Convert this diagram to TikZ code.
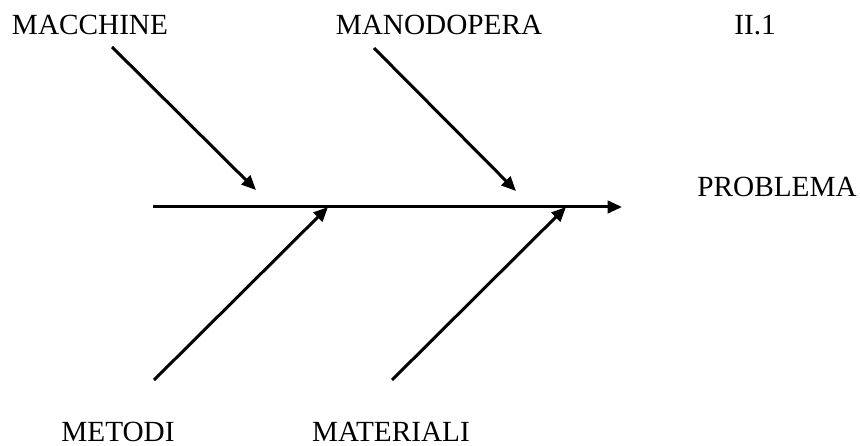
\documentclass[tikz,border=0pt]{standalone}
\usepackage{fontspec}
\setmainfont{Liberation Serif}
\usetikzlibrary{arrows.meta}

\begin{document}
\begin{tikzpicture}[
  x=0.4pt,
  y=-0.4pt,
  font=\fontsize{11.7}{14}\selectfont,
  cause/.style={inner sep=0pt, anchor=center},
  arrow/.style={-{Triangle[length=5.8pt, width=5pt]}, line width=1.2pt},
  spine/.style={arrow}
]
  \useasboundingbox (0,0) rectangle (860,446);

  % labels
  \node[cause] (macchine) at (90,25) {MACCHINE};
  \node[cause] (manodopera) at (439,25) {MANODOPERA};
  \node[cause] (code) at (755,25) {II.1};
  \node[cause] (problema) at (777,187) {PROBLEMA};
  \node[cause] (metodi) at (118,432) {METODI};
  \node[cause] (materiali) at (391,432) {MATERIALI};

  % end points of the bones
  \coordinate (tail) at (153,207);
  \coordinate (head) at (622,207);
  \coordinate (mac0) at (112,47);
  \coordinate (mac1) at (256,190);
  \coordinate (man0) at (374,48);
  \coordinate (man1) at (516,191);
  \coordinate (met0) at (154,380);
  \coordinate (met1) at (328,207);
  \coordinate (mat0) at (392,380);
  \coordinate (mat1) at (566,207);

  \draw[spine] (tail) -- (head);
  \draw[arrow] (mac0) -- (mac1);
  \draw[arrow] (man0) -- (man1);
  \draw[arrow] (met0) -- (met1);
  \draw[arrow] (mat0) -- (mat1);
\end{tikzpicture}
\end{document}
